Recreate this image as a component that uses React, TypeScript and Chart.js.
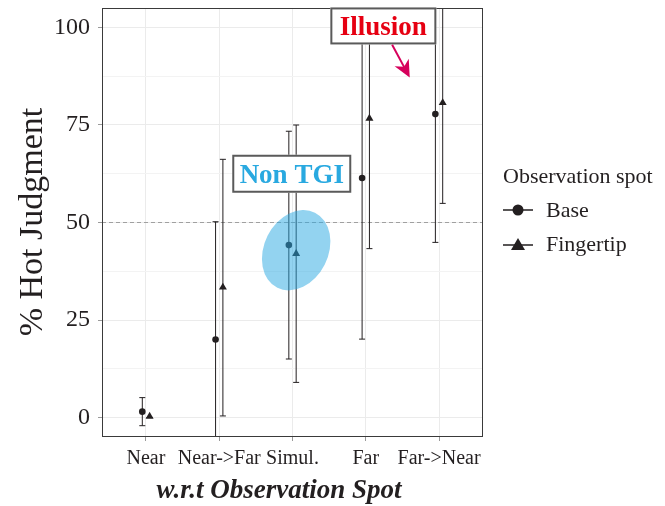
import { useEffect, useRef } from 'react';
import { Chart, registerables } from 'chart.js';

Chart.register(...registerables);

// Observation conditions along the x axis
const categories = ['Near', 'Near->Far', 'Simul.', 'Far', 'Far->Near'];

// % hot judgment, Base observation spot (mean and interval bounds)
const baseMean = [1.5, 20, 44.2, 61.4, 77.8];
const baseLower = [-2.1, -10.2, 15, 20.1, 44.9];
const baseUpper = [5.1, 50.2, 73.4, 102.7, 110.5];

// % hot judgment, Fingertip observation spot
const tipMean = [0.3, 33.4, 42, 76.7, 80.7];
const tipLower = [0, 0.4, 9, 43.3, 54.9];
const tipUpper = [0, 66.2, 75, 110.1, 106.5];

const yTicks = [0, 25, 50, 75, 100];
const yMinorTicks = [12.5, 37.5, 62.5, 87.5];
const chanceLevel = 50;

const SERIF = "'Liberation Serif', 'Times New Roman', serif";
const INK = '#231f20';
const DODGE = 0.05;

const noPadding = (s: any) => {
  s.paddingTop = 0;
  s.paddingBottom = 0;
  s.paddingLeft = 0;
  s.paddingRight = 0;
};

const overlay = {
  id: 'overlay',
  beforeDatasetsDraw(chart: any) {
    const { ctx, chartArea: a, scales } = chart;
    const x = scales.x;
    const y = scales.y;
    ctx.save();
    ctx.beginPath();
    ctx.rect(a.left, a.top, a.right - a.left, a.bottom - a.top);
    ctx.clip();

    // dashed chance line
    const yr = y.getPixelForValue(chanceLevel);
    ctx.strokeStyle = '#a0a0a0';
    ctx.lineWidth = 1;
    ctx.setLineDash([4, 3]);
    ctx.beginPath();
    ctx.moveTo(a.left, yr);
    ctx.lineTo(a.right, yr);
    ctx.stroke();
    ctx.setLineDash([]);

    // error bars with caps
    const bars = (offset: number, lo: number[], hi: number[]) => {
      ctx.strokeStyle = INK;
      ctx.lineWidth = 1;
      lo.forEach((_, i) => {
        const px = x.getPixelForValue(i + 1 + offset);
        const pTop = y.getPixelForValue(hi[i]);
        const pBot = y.getPixelForValue(lo[i]);
        ctx.beginPath();
        ctx.moveTo(px, pTop);
        ctx.lineTo(px, pBot);
        ctx.moveTo(px - 3, pTop);
        ctx.lineTo(px + 3, pTop);
        ctx.moveTo(px - 3, pBot);
        ctx.lineTo(px + 3, pBot);
        ctx.stroke();
      });
    };
    bars(-DODGE, baseLower, baseUpper);
    bars(DODGE, tipLower, tipUpper);
    ctx.restore();
  },
  afterDatasetsDraw(chart: any) {
    const { ctx, chartArea: a, scales } = chart;
    const x = scales.x;
    const y = scales.y;
    ctx.save();

    // shaded region around the Simul. condition
    ctx.save();
    ctx.beginPath();
    ctx.rect(a.left, a.top, a.right - a.left, a.bottom - a.top);
    ctx.clip();
    ctx.fillStyle = 'rgba(40, 168, 225, 0.5)';
    ctx.beginPath();
    ctx.ellipse(x.getPixelForValue(3.05), y.getPixelForValue(42.9), 42, 32, -1.107, 0, Math.PI * 2);
    ctx.fill();
    ctx.restore();

    // panel border
    ctx.strokeStyle = '#3a3a3a';
    ctx.lineWidth = 1;
    ctx.strokeRect(a.left + 0.5, a.top + 0.5, a.right - a.left - 1, a.bottom - a.top - 1);

    // boxed annotations
    const label = (text: string, cx: number, cy: number, w: number, h: number, color: string) => {
      const px = x.getPixelForValue(cx);
      const py = y.getPixelForValue(cy);
      ctx.fillStyle = '#ffffff';
      ctx.fillRect(px - w / 2, py - h / 2, w, h);
      ctx.strokeStyle = '#5a5a5a';
      ctx.lineWidth = 2;
      ctx.strokeRect(px - w / 2 + 1, py - h / 2 + 1, w - 2, h - 2);
      ctx.fillStyle = color;
      ctx.font = `bold 27px ${SERIF}`;
      ctx.textAlign = 'center';
      ctx.textBaseline = 'alphabetic';
      ctx.fillText(text, px, py + 9);
    };
    label('Illusion', 4.24, 100.4, 106, 37, '#e60012');
    label('Non TGI', 2.99, 62.5, 119, 38, '#29a9e0');

    // arrow from the Illusion label
    const sx = x.getPixelForValue(4.36);
    const sy = y.getPixelForValue(95.6);
    const ex = x.getPixelForValue(4.6);
    const ey = y.getPixelForValue(87.2);
    const ang = Math.atan2(ey - sy, ex - sx);
    const dx = Math.cos(ang);
    const dy = Math.sin(ang);
    ctx.strokeStyle = '#d6005b';
    ctx.fillStyle = '#d6005b';
    ctx.lineWidth = 2;
    ctx.beginPath();
    ctx.moveTo(sx, sy);
    ctx.lineTo(ex - dx * 10, ey - dy * 10);
    ctx.stroke();
    ctx.beginPath();
    ctx.moveTo(ex, ey);
    ctx.lineTo(ex - dx * 17 - dy * 8, ey - dy * 17 + dx * 8);
    ctx.lineTo(ex - dx * 12, ey - dy * 12);
    ctx.lineTo(ex - dx * 17 + dy * 8, ey - dy * 17 - dx * 8);
    ctx.closePath();
    ctx.fill();
    ctx.restore();
  },
  afterDraw(chart: any) {
    const { ctx } = chart;
    ctx.save();
    ctx.fillStyle = INK;

    // axis titles
    ctx.font = `34px ${SERIF}`;
    ctx.textAlign = 'center';
    ctx.textBaseline = 'alphabetic';
    ctx.save();
    ctx.translate(42, 222);
    ctx.rotate(-Math.PI / 2);
    ctx.fillText('% Hot Judgment', 0, 0);
    ctx.restore();

    ctx.font = `italic bold 27px ${SERIF}`;
    ctx.fillText('w.r.t Observation Spot', 279, 498);

    // legend
    ctx.textAlign = 'left';
    ctx.textBaseline = 'middle';
    ctx.font = `22px ${SERIF}`;
    ctx.fillText('Observation spot', 503, 177);
    ctx.fillText('Base', 546, 211);
    ctx.fillText('Fingertip', 546, 245);

    ctx.strokeStyle = INK;
    ctx.lineWidth = 1.6;
    ctx.beginPath();
    ctx.moveTo(503, 210);
    ctx.lineTo(533, 210);
    ctx.moveTo(503, 245);
    ctx.lineTo(533, 245);
    ctx.stroke();
    ctx.beginPath();
    ctx.arc(518, 210, 5.5, 0, Math.PI * 2);
    ctx.fill();
    ctx.beginPath();
    ctx.moveTo(518, 238);
    ctx.lineTo(525, 250);
    ctx.lineTo(511, 250);
    ctx.closePath();
    ctx.fill();
    ctx.restore();
  },
};

export default function App() {
  const ref = useRef<HTMLCanvasElement>(null);

  useEffect(() => {
    if (!ref.current) return;
    const chart = new Chart(ref.current, {
      type: 'scatter',
      data: {
        datasets: [
          {
            label: 'Base',
            data: categories.map((_, i) => ({ x: i + 1 - DODGE, y: baseMean[i] })),
            pointStyle: 'circle',
            pointRadius: 3.3,
            backgroundColor: INK,
            borderColor: INK,
            borderWidth: 0,
          },
          {
            label: 'Fingertip',
            data: categories.map((_, i) => ({ x: i + 1 + DODGE, y: tipMean[i] })),
            pointStyle: 'triangle',
            pointRadius: 4.6,
            backgroundColor: INK,
            borderColor: INK,
            borderWidth: 0,
          },
        ],
      },
      options: {
        responsive: false,
        animation: false,
        devicePixelRatio: 1,
        layout: { padding: { left: 0, top: 8, right: 182, bottom: 0 } },
        plugins: { legend: { display: false }, tooltip: { enabled: false } },
        scales: {
          x: {
            type: 'linear',
            min: 0.4,
            max: 5.6,
            afterBuildTicks: (s: any) => {
              s.ticks = categories.map((_, i) => ({ value: i + 1 }));
            },
            afterFit: (s: any) => {
              s.height = 69;
              noPadding(s);
            },
            ticks: {
              autoSkip: false,
              maxRotation: 0,
              padding: 6,
              color: INK,
              font: { family: SERIF, size: 20 },
              callback: (v: any) => categories[Math.round(Number(v)) - 1] ?? '',
            },
            grid: { color: '#ebebeb', lineWidth: 1, tickLength: 4, tickColor: '#9a9a9a' },
            border: { display: false },
          },
          y: {
            type: 'linear',
            min: -5,
            max: 105,
            afterBuildTicks: (s: any) => {
              s.ticks = [...yTicks, ...yMinorTicks].sort((p, q) => p - q).map((v) => ({ value: v }));
            },
            afterFit: (s: any) => {
              s.width = 102;
              noPadding(s);
            },
            ticks: {
              padding: 8,
              color: INK,
              font: { family: SERIF, size: 24 },
              callback: (v: any) => (yTicks.includes(Number(v)) ? String(v) : ''),
            },
            grid: {
              color: (c: any) => (yTicks.includes(c.tick?.value) ? '#ebebeb' : '#f3f3f3'),
              lineWidth: 1,
              tickLength: 4,
              tickColor: (c: any) => (yTicks.includes(c.tick?.value) ? '#9a9a9a' : 'rgba(0,0,0,0)'),
            },
            border: { display: false },
          },
        },
      },
      plugins: [overlay],
    });
    return () => chart.destroy();
  }, []);

  return (
    <div style={{ position: 'absolute', left: 0, top: 0, width: 665, height: 506, background: '#fff' }}>
      <canvas ref={ref} width={665} height={506} />
    </div>
  );
}
